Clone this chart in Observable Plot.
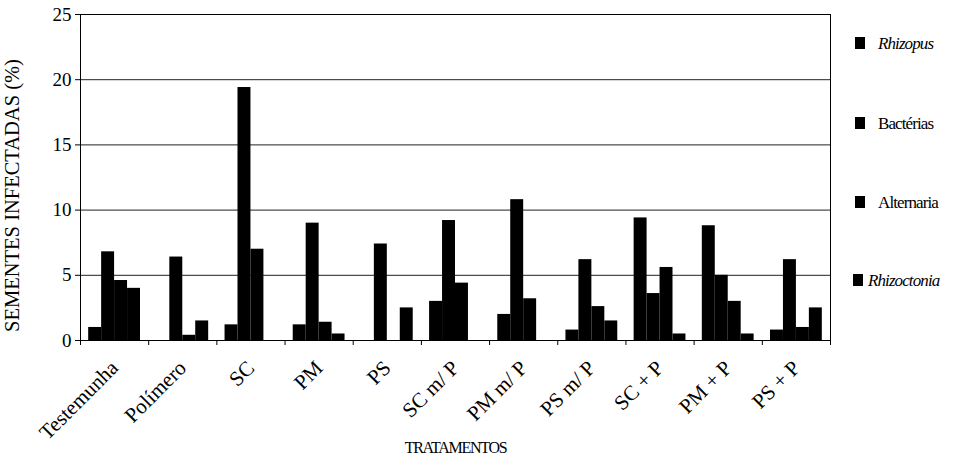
<!DOCTYPE html>
<html>
<head>
<meta charset="utf-8">
<script src="https://cdn.jsdelivr.net/npm/d3@7"></script>
<script src="https://cdn.jsdelivr.net/npm/@observablehq/plot@0.6"></script>
<style>
  html, body { margin: 0; padding: 0; background: #fff; }
  #chart { position: relative; width: 953px; height: 458px; }
  svg, svg text { font-family: "Liberation Serif", "Times New Roman", serif !important; }
</style>
</head>
<body>
<div id="chart"></div>
<script>
const treatments = ["Testemunha", "Polímero", "SC", "PM", "PS", "SC m/ P", "PM m/ P", "PS m/ P", "SC + P", "PM + P", "PS + P"];
const series = ["Rhizopus", "Bactérias", "Alternaria", "Rhizoctonia"];
const rhizopus    = [1.0, 0,   1.2,  1.2, 0,   3.0, 2.0,  0.8, 9.4, 8.8, 0.8];
const bacterias   = [6.8, 6.4, 19.4, 9.0, 7.4, 9.2, 10.8, 6.2, 3.6, 5.0, 6.2];
const alternaria  = [4.6, 0.4, 7.0,  1.4, 0,   4.4, 3.2,  2.6, 5.6, 3.0, 1.0];
const rhizoctonia = [4.0, 1.5, 0,    0.5, 2.5, 0,   0,    1.5, 0.5, 0.5, 2.5];
const yTicks = [0, 5, 10, 15, 20, 25];
const yLabel = "SEMENTES INFECTADAS (%)";
const xLabel = "TRATAMENTOS";

const values = [rhizopus, bacterias, alternaria, rhizoctonia];
const data = [];
treatments.forEach((t, i) => {
  series.forEach((s, j) => {
    data.push({i, j, t, s, v: values[j][i]});
  });
});

const pad = 0.12, bw = (1 - 2 * pad) / series.length;

const plot = Plot.plot({
  width: 953,
  height: 458,
  marginLeft: 80,
  marginRight: 123,
  marginTop: 14,
  marginBottom: 118,
  style: {fontFamily: "Liberation Serif, serif", background: "white", color: "black"},
  x: {type: "linear", domain: [0, treatments.length]},
  y: {domain: [0, 25]},
  marks: [
    Plot.gridY(yTicks.filter(d => d > 0), {stroke: "#222", strokeOpacity: 1, strokeWidth: 1}),
    Plot.rectY(data, {
      x1: d => d.i + pad + d.j * bw,
      x2: d => d.i + pad + (d.j + 1) * bw,
      y1: 0,
      y2: "v",
      fill: "black"
    }),
    Plot.frame({stroke: "black", strokeWidth: 1}),
    Plot.axisY({
      ticks: yTicks, tickSize: 5, tickPadding: 4, fontSize: 19,
      label: yLabel, labelAnchor: "center", labelArrow: "none", labelOffset: 76
    }),
    Plot.axisX({
      ticks: d3.range(0, treatments.length + 1), tickSize: 5, tickFormat: () => "", label: null
    }),
    Plot.axisX({
      ticks: d3.range(0, treatments.length).map(i => i + 0.5),
      tickSize: 0, tickPadding: 24, tickRotate: -45, fontSize: 21,
      tickFormat: d => treatments[Math.floor(d)],
      label: xLabel, labelAnchor: "center", labelArrow: "none", labelOffset: 112
    })
  ]
});

document.getElementById("chart").appendChild(plot);

const svg = d3.select(plot);
// axis label styling
svg.selectAll("text").filter(function() { return this.textContent === yLabel; })
  .attr("font-size", 20.5).attr("dx", -18);
svg.selectAll("text").filter(function() { return this.textContent === xLabel; })
  .attr("font-size", 16).attr("letter-spacing", "-1.3px");

// legend
const legendY = [43, 123, 202, 280];
const legendItalic = [true, false, false, true];
const g = svg.append("g").attr("class", "legend").attr("text-anchor", "start");
series.forEach((s, j) => {
  const sx = j === 3 ? 853 : 855;
  const tx = j === 3 ? 868 : 878;
  g.append("rect").attr("x", sx).attr("y", legendY[j] - 6).attr("width", 10).attr("height", 12).attr("fill", "black");
  g.append("text").attr("x", tx).attr("y", legendY[j]).attr("dy", "0.35em")
    .attr("text-anchor", "start")
    .attr("font-family", "Liberation Serif, serif")
    .attr("font-size", 17).attr("letter-spacing", "-0.9px")
    .attr("font-style", legendItalic[j] ? "italic" : "normal")
    .attr("fill", "black").text(s);
});
</script>
</body>
</html>
